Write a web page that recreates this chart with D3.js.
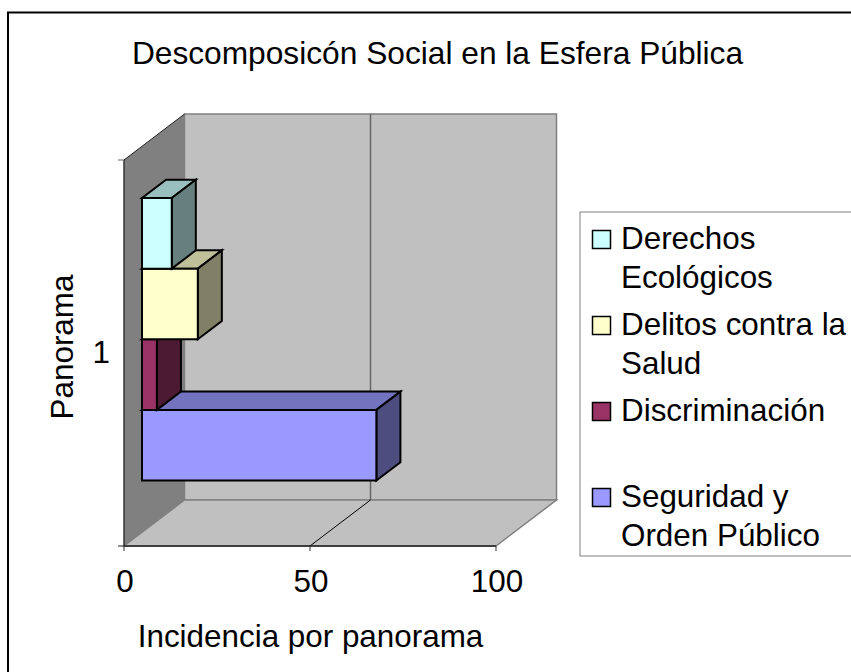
<!DOCTYPE html>
<html>
<head>
<meta charset="utf-8">
<script src="https://d3js.org/d3.v7.min.js"></script>
<style>
html, body { margin: 0; padding: 0; background: #fff; overflow: hidden; }
svg { display: block; }
text { font-family: "Liberation Sans", Arial, sans-serif; fill: #000; }
</style>
</head>
<body>
<div id="box"></div>
<script>
var titleText = "Descomposicón Social en la Esfera Pública";
var xTitle = "Incidencia por panorama";
var yTitle = "Panorama";
var categories = ["1"];
var xTicks = [0, 50, 100];
// bottom to top, same order as the stack in the picture
var seriesNames = ["Seguridad y Orden Público", "Discriminación", "Delitos contra la Salud", "Derechos Ecológicos"];
var seriesValues = [63, 4, 15, 8];
var seriesColors = ["#9999ff", "#993366", "#ffffcc", "#ccffff"];
var legendLines = [["Derechos", "Ecológicos"], ["Delitos contra la", "Salud"], ["Discriminación"], ["Seguridad y", "Orden Público"]];
var legendColors = ["#ccffff", "#ffffcc", "#993366", "#9999ff"];

var fontSize = 31.4;

var svg = d3.select("#box").append("svg").attr("width", 851).attr("height", 672);

// chart frame, right and bottom edges run off the picture
svg.append("rect").attr("x", 8).attr("y", 12.5).attr("width", 900).attr("height", 700)
    .attr("fill", "#fff").attr("stroke", "#000").attr("stroke-width", 2);

svg.append("text").attr("x", 437.5).attr("y", 64).attr("text-anchor", "middle")
    .attr("font-size", 31.7).text(titleText);

// scales on the front plane, depth is added by project()
var x = d3.scaleLinear().domain([0, 100]).range([124, 496]);
var yPlane = d3.scaleBand().domain(categories).range([546, 160]);
var depthX = 60.5, depthY = -46;

function project(v, py, z) {
    return [x(v) + z * depthX, py + z * depthY];
}
function poly(pts, fill, stroke, sw) {
    return svg.append("polygon")
        .attr("points", pts.map(function(p) { return p.join(","); }).join(" "))
        .attr("fill", fill).attr("stroke", stroke || "none").attr("stroke-width", sw || 0);
}
function line(a, b, color, sw) {
    return svg.append("line").attr("x1", a[0]).attr("y1", a[1]).attr("x2", b[0]).attr("y2", b[1])
        .attr("stroke", color).attr("stroke-width", sw);
}

var yBottom = yPlane.range()[0], yTop = yPlane.range()[1];

// walls
poly([project(0, yBottom, 1), project(100, yBottom, 1), project(100, yTop, 1), project(0, yTop, 1)], "#c0c0c0", "#808080", 1.5);
poly([project(0, yBottom, 0), project(0, yBottom, 1), project(0, yTop, 1), project(0, yTop, 0)], "#808080");
poly([project(0, yBottom, 0), project(100, yBottom, 0), project(100, yBottom, 1), project(0, yBottom, 1)], "#c0c0c0", "#808080", 1.5);

// gridlines
xTicks.slice(1, -1).forEach(function(t) {
    line(project(t, yBottom, 1), project(t, yTop, 1), "#666", 1.5);
    line(project(t, yBottom, 0), project(t, yBottom, 1), "#000", 1);
});

// axis lines and ticks
line(project(0, yTop, 0), project(0, yBottom, 0), "#333", 1.5);
line(project(0, yTop, 0), project(0, yTop, 1), "#222", 1);
line(project(0, yBottom, 0), project(100, yBottom, 0), "#222", 1.5);
line([118, yTop], [124, yTop], "#666", 1);
line([118, yBottom], [124, yBottom], "#222", 1);
xTicks.forEach(function(t) {
    line([x(t), yBottom], [x(t), yBottom + 5], "#333", 1);
    svg.append("text").attr("x", x(t) + 1).attr("y", 592).attr("text-anchor", "middle")
        .attr("font-size", fontSize).text(t);
});
svg.append("text").attr("x", 110).attr("y", 363).attr("text-anchor", "end").attr("font-size", fontSize).text(categories[0]);

svg.append("text").attr("x", 310.5).attr("y", 647).attr("text-anchor", "middle")
    .attr("font-size", fontSize).text(xTitle);
svg.append("text").attr("transform", "translate(73,347) rotate(-90)").attr("text-anchor", "middle")
    .attr("font-size", fontSize).text(yTitle);

// bars sit between these two depths of the floor, y is the height of their front face
var zFront = 0.2975, zBack = 0.695;
var yBars = d3.scaleBand().domain(seriesNames).range([480.5 - zFront * depthY, 198 - zFront * depthY]);

seriesNames.forEach(function(name, i) {
    var v = seriesValues[i];
    var c = d3.color(seriesColors[i]);
    var y0 = yBars(name) + yBars.bandwidth();
    var y1 = yBars(name);
    var top = d3.rgb(c.r * 0.75, c.g * 0.75, c.b * 0.75) + "";
    var side = d3.rgb(c.r * 0.5, c.g * 0.5, c.b * 0.5) + "";
    poly([project(0, y1, zFront), project(v, y1, zFront), project(v, y1, zBack), project(0, y1, zBack)], top, "#000", 2);
    poly([project(v, y0, zFront), project(v, y0, zBack), project(v, y1, zBack), project(v, y1, zFront)], side, "#000", 2);
    poly([project(0, y0, zFront), project(v, y0, zFront), project(v, y1, zFront), project(0, y1, zFront)], seriesColors[i], "#000", 2);
});

// legend
svg.append("rect").attr("x", 580).attr("y", 212).attr("width", 280).attr("height", 344)
    .attr("fill", "#fff").attr("stroke", "#808080").attr("stroke-width", 1);
var legendTop = [249, 335, 421, 507];
legendLines.forEach(function(lines, i) {
    svg.append("rect").attr("x", 592.5).attr("y", legendTop[i] - 18.5).attr("width", 18).attr("height", 18)
        .attr("fill", legendColors[i]).attr("stroke", "#000").attr("stroke-width", 1.5);
    lines.forEach(function(l, j) {
        svg.append("text").attr("x", 621).attr("y", legendTop[i] + j * 38.5).attr("font-size", fontSize).text(l);
    });
});
</script>
</body>
</html>
